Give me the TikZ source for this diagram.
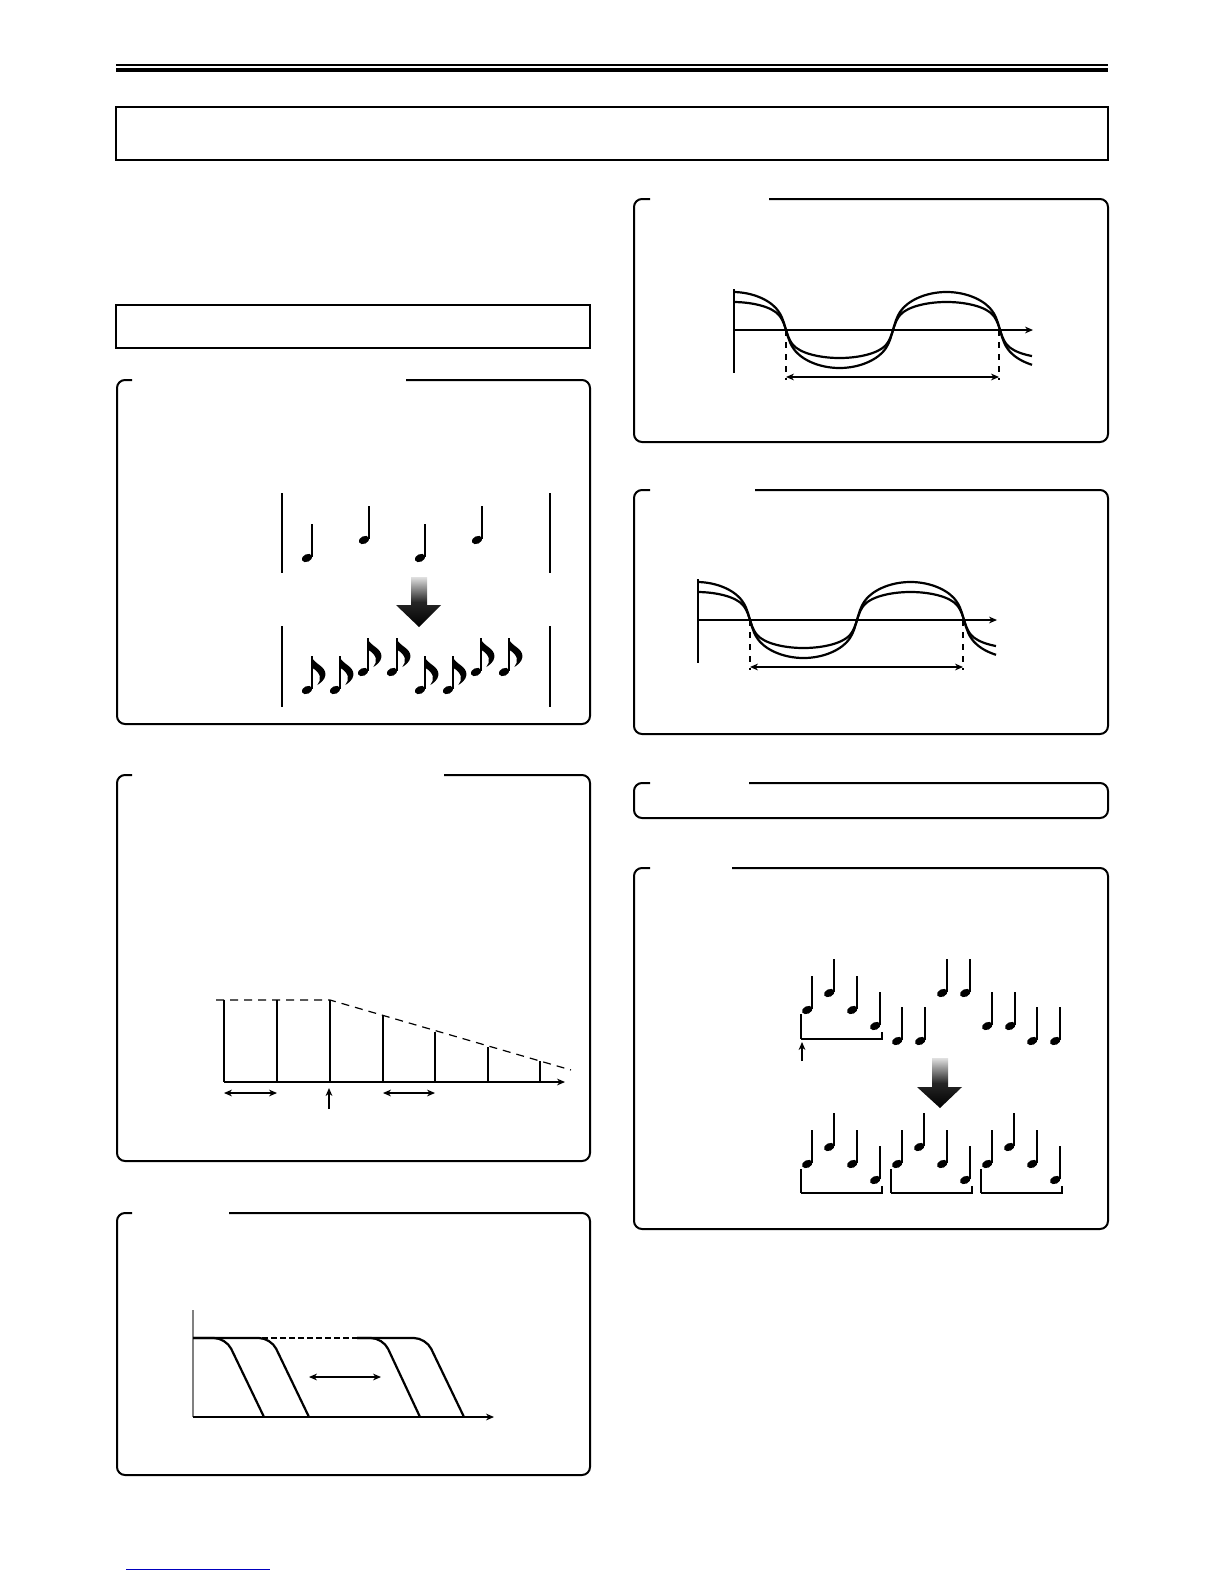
\documentclass[tikz,border=0pt]{standalone}
\usetikzlibrary{arrows.meta}

% note symbols, head centre at (#1,#2), y grows downwards
\newcommand{\quarternote}[2]{%
  \fill[shift={(#1,#2)},rotate=25] (0,0) ellipse (5.5 and 3.8);
  \draw[line width=0.75pt] (#1+4.8,#2-1) -- (#1+4.8,#2-34);}
\newcommand{\eighthnote}[2]{%
  \quarternote{#1}{#2}
  \fill (#1+4.4,#2-34) .. controls (#1+6.4,#2-26) and (#1+19.4,#2-24) .. (#1+18.4,#2-15)
    .. controls (#1+17.9,#2-10) and (#1+13.4,#2-7) .. (#1+10.4,#2-5)
    .. controls (#1+14.4,#2-10) and (#1+14.4,#2-17) .. (#1+5.4,#2-22) -- (#1+4.4,#2-22) -- cycle;}

\begin{document}
\begin{tikzpicture}[x=0.5pt,y=-0.5pt,
    panel/.style={line width=1pt,rounded corners=4pt},
    axis/.style={line width=0.6pt},
    wave/.style={line width=1.1pt},
    dim/.style={line width=0.6pt,{Stealth[length=4pt,width=3.4pt]}-{Stealth[length=4pt,width=3.4pt]}},
    tip/.style={line width=0.6pt,-{Stealth[length=4pt,width=3.4pt]}},
    declare function={sw(\t,\q)=sin(\t)*pow(sin(\t)*sin(\t)+0.02,-\q)*pow(1.02,\q);}]
  \fill[white] (0,0) rectangle (1224,1584);
  \useasboundingbox (0,0) rectangle (1224,1584);

  % page head
  \draw[line width=0.8pt] (116,65) -- (1108,65);
  \draw[line width=2pt] (116,70) -- (1108,70);
  \draw[line width=0.8pt] (116,107) rectangle (1108,160);
  \draw[line width=0.8pt] (116,305) rectangle (590,348);

  % left column panels
  \draw[panel] (406,380) -- (590,380) -- (590,724) -- (117,724) -- (117,380) -- (132,380);
  \draw[panel] (444,775) -- (590,775) -- (590,1161) -- (117,1161) -- (117,775) -- (132,775);
  \draw[panel] (229,1213) -- (590,1213) -- (590,1475) -- (117,1475) -- (117,1213) -- (132,1213);

  % right column panels
  \draw[panel] (769,199) -- (1108,199) -- (1108,442) -- (634,442) -- (634,199) -- (650,199);
  \draw[panel] (755,490) -- (1108,490) -- (1108,734) -- (634,734) -- (634,490) -- (650,490);
  \draw[panel] (749,783) -- (1108,783) -- (1108,818) -- (634,818) -- (634,783) -- (650,783);
  \draw[panel] (732,868) -- (1108,868) -- (1108,1229) -- (634,1229) -- (634,868) -- (650,868);

  % quarter notes to eighth notes
  \draw[axis] (282,493) -- (282,573);
  \draw[axis] (550,493) -- (550,573);
  \draw[axis] (282,626) -- (282,707);
  \draw[axis] (550,626) -- (550,707);
  \foreach \hx/\hy in {307/558,364/540,420/558,477/540}{
    \quarternote{\hx}{\hy}}
  \shade[top color=black!12,bottom color=black,middle color=black!85]
    (411,577) -- (427,577) -- (427,605) -- (441,605) -- (419,627) -- (396,605) -- (411,605) -- cycle;
  \foreach \hx/\hy in {307/690,335/690,363/672,392/672,420/690,448/690,476/672,504/672}{
    \eighthnote{\hx}{\hy}}

  % decaying steps
  \draw[axis,-{Stealth[length=4pt,width=3.4pt]}] (224,1082) -- (565,1082);
  \foreach \lx/\ly in {224/1000,277/1000,330/1000,383/1016,435/1032,488/1047,540/1061}
    \draw[axis] (\lx,1082) -- (\lx,\ly);
  \draw[axis,dash pattern=on 4pt off 3pt] (216,1000) -- (330,1000) -- (571,1070);
  \draw[dim] (224,1093) -- (277,1093);
  \draw[dim] (383,1093) -- (435,1093);
  \draw[tip] (329,1109) -- (329,1088);

  % release curves
  \draw[axis,gray] (193,1310) -- (193,1417);
  \draw[axis,-{Stealth[length=4pt,width=3.4pt]}] (193,1417) -- (494,1417);
  \draw[wave,rounded corners=6pt] (193,1338) -- (226,1338) -- (264,1417);
  \draw[wave,rounded corners=6pt] (193,1338) -- (271,1338) -- (309,1417);
  \draw[wave,rounded corners=6pt] (357,1338) -- (383,1338) -- (420,1417);
  \draw[wave,rounded corners=6pt] (357,1338) -- (426,1338) -- (464,1417);
  \draw[wave,dash pattern=on 3pt off 1.5pt] (262,1338) -- (357,1338);
  \draw[dim] (309,1377) -- (381,1377);

  % two waves, second copy shifted
  \foreach \dx/\dy in {0/0,-36/290}{
    \begin{scope}[shift={(\dx,\dy)}]
      \draw[axis] (734,289) -- (734,373);
      \draw[axis,-{Stealth[length=4pt,width=3.4pt]}] (734,330) -- (1033,330);
      \draw[wave] plot[domain=734:1032,samples=150] (\x,{330+38*sw((\x-786)*1.68224,0.3)});
      \draw[wave] plot[domain=734:1032,samples=150] (\x,{330+28*sw((\x-786)*1.68224,0.34)});
      \draw[axis,dashed] (786,330) -- (786,380);
      \draw[axis,dashed] (999,330) -- (999,380);
      \draw[dim] (786,377) -- (999,377);
    \end{scope}}

  % phrase regrouping
  \foreach \sx/\st in {812/976,834/959,857/976,880/992,902/1007,925/1007,947/959,970/959,992/992,1015/992,1037/1007,1060/1007}{
    \quarternote{\sx-4.8}{\st+34}}
  \draw[line width=0.6pt] (882,1032) -- (882,1039) -- (801,1039);
  \draw[line width=1.1pt] (801,1039) -- (801,1014);
  \draw[tip] (802,1061) -- (802,1042);
  \shade[top color=black!12,bottom color=black,middle color=black!85]
    (932,1058) -- (948,1058) -- (948,1087) -- (962,1087) -- (940,1108) -- (917,1087) -- (932,1087) -- cycle;
  \foreach \g in {0,1,2}{
    \foreach \sx/\st in {812/1130,834/1113,857/1130,880/1146}{
      \quarternote{\sx+90*\g-4.8}{\st+34}}
    \draw[line width=0.6pt] (882+90*\g,1186) -- (882+90*\g,1193) -- (801+90*\g,1193);
    \draw[line width=1.1pt] (801+90*\g,1193) -- (801+90*\g,1169);}

  \draw[blue!75!black,line width=0.5pt] (126,1569) -- (270,1569);
\end{tikzpicture}
\end{document}
